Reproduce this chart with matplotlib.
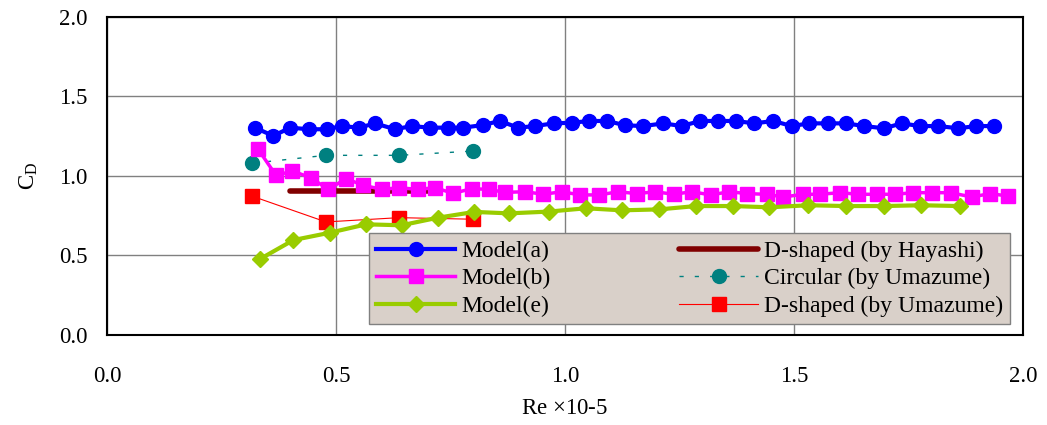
import matplotlib.pyplot as plt

# data (Re x10^-5, CD)
re_a = [0.323, 0.363, 0.400, 0.440, 0.480, 0.512, 0.551, 0.585, 0.629, 0.665,
        0.705, 0.745, 0.778, 0.822, 0.857, 0.898, 0.934, 0.975, 1.015, 1.053,
        1.092, 1.131, 1.171, 1.215, 1.255, 1.295, 1.335, 1.373, 1.413, 1.455,
        1.495, 1.533, 1.574, 1.614, 1.653, 1.697, 1.735, 1.775, 1.815, 1.859,
        1.897, 1.937]
cd_a = [1.304, 1.252, 1.304, 1.294, 1.294, 1.314, 1.304, 1.331, 1.294, 1.314,
        1.304, 1.304, 1.304, 1.321, 1.346, 1.304, 1.314, 1.331, 1.335, 1.346,
        1.346, 1.319, 1.314, 1.331, 1.314, 1.346, 1.346, 1.346, 1.331, 1.346,
        1.314, 1.331, 1.331, 1.331, 1.314, 1.300, 1.331, 1.314, 1.314, 1.300,
        1.314, 1.314]

re_b = [0.330, 0.369, 0.405, 0.445, 0.483, 0.522, 0.560, 0.600, 0.638, 0.678,
        0.716, 0.756, 0.796, 0.833, 0.869, 0.913, 0.953, 0.993, 1.033, 1.075,
        1.116, 1.157, 1.197, 1.237, 1.277, 1.318, 1.359, 1.398, 1.440, 1.477,
        1.520, 1.557, 1.600, 1.640, 1.682, 1.721, 1.760, 1.801, 1.842, 1.888,
        1.928, 1.968]
cd_b = [1.168, 1.004, 1.031, 0.989, 0.916, 0.983, 0.941, 0.916, 0.926, 0.916,
        0.926, 0.891, 0.920, 0.916, 0.897, 0.901, 0.885, 0.901, 0.881, 0.881,
        0.901, 0.889, 0.901, 0.885, 0.901, 0.881, 0.901, 0.889, 0.885, 0.868,
        0.885, 0.885, 0.895, 0.885, 0.885, 0.885, 0.895, 0.895, 0.895, 0.868,
        0.889, 0.874]

re_e = [0.333, 0.407, 0.486, 0.566, 0.643, 0.723, 0.802, 0.878, 0.964, 1.046,
        1.124, 1.206, 1.286, 1.367, 1.446, 1.531, 1.614, 1.697, 1.777, 1.862]
cd_e = [0.476, 0.597, 0.643, 0.696, 0.690, 0.738, 0.774, 0.765, 0.776, 0.797,
        0.784, 0.790, 0.811, 0.811, 0.803, 0.816, 0.811, 0.811, 0.816, 0.811]

re_hayashi = [0.40, 0.50, 0.60, 0.70]
cd_hayashi = [0.905, 0.905, 0.905, 0.905]

re_umazume = [0.316, 0.478, 0.638, 0.800]
cd_circ = [1.080, 1.130, 1.130, 1.157]
cd_dshape = [0.874, 0.711, 0.738, 0.728]

plt.rcParams['font.family'] = ['Liberation Serif', 'DejaVu Serif']
plt.rcParams['mathtext.fontset'] = 'custom'
plt.rcParams['mathtext.rm'] = 'Liberation Serif'

fig = plt.figure(figsize=(10.47, 4.25), dpi=100)
ax = fig.add_axes([0.1022, 0.2118, 0.8749, 0.7482])

ax.plot(re_a, cd_a, color='#0000ff', lw=3, marker='o', ms=10, label='Model(a)', zorder=5)
ax.plot(re_b, cd_b, color='#ff00ff', lw=2.5, marker='s', ms=10, label='Model(b)', zorder=4)
ax.plot(re_e, cd_e, color='#99cc00', lw=3, marker='D', ms=8, label='Model(e)', zorder=4)
ax.plot(re_hayashi, cd_hayashi, color='#800000', lw=4, solid_capstyle='round',
        label='D-shaped (by Hayashi)', zorder=3)
ax.plot(re_umazume, cd_circ, color='#008080', lw=1, dashes=(3, 8), marker='o', ms=10,
        label='Circular (by Umazume)', zorder=3)
ax.plot(re_umazume, cd_dshape, color='#ff0000', lw=0.8, marker='s', ms=10,
        label='D-shaped (by Umazume)', zorder=3)

ax.set_xlim(0, 2.0)
ax.set_ylim(0, 2.0)
ax.set_xticks([0.0, 0.5, 1.0, 1.5, 2.0])
ax.set_yticks([0.0, 0.5, 1.0, 1.5, 2.0])
ax.set_xticklabels(['0.0', '0.5', '1.0', '1.5', '2.0'])
ax.set_yticklabels(['0.0', '0.5', '1.0', '1.5', '2.0'])
ax.tick_params(length=0, labelsize=16.5, pad=14)
ax.tick_params(axis='x', pad=22)
ax.grid(True, color='#808080', lw=1)
ax.set_axisbelow(True)
for s in ax.spines.values():
    s.set_linewidth(1.5)

ax.set_xlabel(r'Re $\times$10-5', fontsize=16.5, labelpad=8)
ax.set_ylabel(r'C$_\mathrm{D}$', fontsize=16.5, labelpad=14)

leg = ax.legend(loc='lower left', bbox_to_anchor=(0.286, 0.035),
                ncol=2, fontsize=17, handlelength=3.35, columnspacing=5.45,
                labelspacing=0.25, borderaxespad=0, frameon=True, fancybox=False,
                facecolor='#d9d0c9', edgecolor='#808080', framealpha=1,
                handletextpad=0.25, borderpad=0.3)
leg.set_zorder(10)

plt.savefig('out.png')
